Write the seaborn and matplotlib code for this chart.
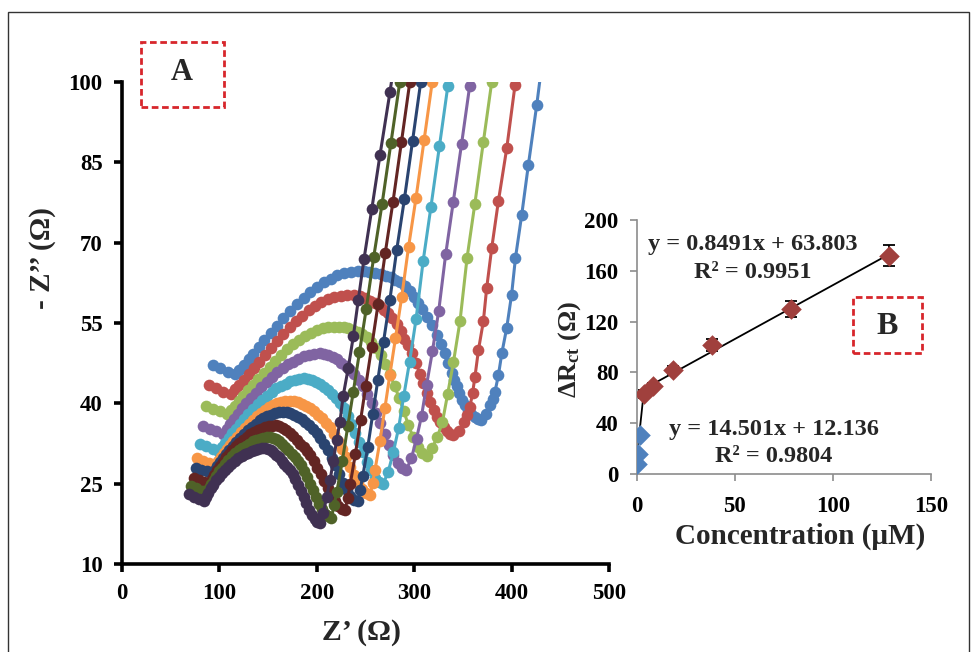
import numpy as np
import pandas as pd
import matplotlib
matplotlib.use("Agg")
import matplotlib.pyplot as plt
import seaborn as sns
from matplotlib.patches import Rectangle

sns.set_theme(style="white")
plt.rcParams['font.family'] = ['Liberation Serif', 'DejaVu Serif']
plt.rcParams['font.weight'] = 'bold'
plt.rcParams['mathtext.fontset'] = 'custom'
plt.rcParams['mathtext.rm'] = 'Liberation Serif:bold'
plt.rcParams['mathtext.bf'] = 'Liberation Serif:bold'
plt.rcParams['mathtext.it'] = 'Liberation Serif:bold'

# ---------------- Panel A : Nyquist curves, points as (Z', -Z'') ----------------
pts_blue = [(93.5, 47.2), (101, 46.6), (108.5, 45.9),
            (116, 45.4), (120.4, 46.2), (124.8, 47.1), (129.9, 48.2), (134.9, 49.3), (140.6, 50.6), (146.2, 51.8),
            (152.5, 53.2), (158.8, 54.5), (165.8, 55.9), (172.7, 57.2), (179.7, 58.5), (186.6, 59.7), (193.5, 60.8),
            (200.4, 61.8), (207.4, 62.6), (214.3, 63.3), (221.2, 63.9), (228.1, 64.3), (235, 64.6), (242, 64.7),
            (248, 64.7), (254, 64.5), (260, 64.3), (266, 64.1), (271, 63.8), (276, 63.5), (280.7, 63.1),
            (285.4, 62.7), (290.5, 61.9), (295.7, 60.9), (299.9, 59.9), (304, 58.8), (308.4, 57.6), (312.8, 56.2),
            (317.9, 54.6), (323, 52.8), (327.3, 51.1), (331.6, 49.4), (335, 47.6), (338.5, 45.7), (341, 44.4),
            (343.6, 43.2), (346.2, 42), (348.8, 40.7), (352.1, 39.7), (355.5, 38.8), (358.7, 38), (362, 37.4),
            (365.5, 37), (369, 36.8),
            (373.5, 38), (377.8, 39.7), (380.5, 40.9), (383, 42.2), (386.5, 45.3), (390, 49.4), (395, 54.1),
            (400, 60.3), (404, 67.2), (410.4, 75.2), (417.2, 84.5), (425.8, 95.7), (433, 106)]

pts_red = [(89, 43.4), (96.5, 42.8), (104, 42.2),
           (112, 41.7), (116.2, 42.6), (120.3, 43.4), (125.1, 44.4), (129.9, 45.4), (135.3, 46.6), (140.6, 47.8),
           (146.6, 49.1), (152.5, 50.4), (159, 51.7), (165.6, 53), (172.1, 54.2), (178.6, 55.4), (185.2, 56.4),
           (191.7, 57.4), (198.3, 58.2), (204.8, 58.9), (211.4, 59.4), (217.9, 59.8), (224.5, 60.1), (231, 60.2),
           (237.7, 60.2), (244.4, 60), (249.7, 59.7), (255, 59.2), (260, 58.7), (265, 58.1), (269, 57.5),
           (273, 56.8), (277.5, 55.9), (282, 54.8), (286, 53.5), (290, 52), (293.7, 50.8), (297.4, 49.4),
           (301.7, 47.5), (306, 45.5), (309.5, 43.8), (313, 42), (316.5, 40.3), (320, 38.8), (323.5, 37.5),
           (327, 36.5), (330.5, 35.5), (334, 34.8), (337, 34.3), (340, 34.1),
           (346, 34.8), (351, 36.5), (354.5, 37.8), (357.3, 39.4), (360, 42), (362.4, 45), (366, 50),
           (371, 55.3), (374.4, 61.5), (379.6, 69), (386.4, 77.7), (395, 87.6), (403.5, 99.4), (410, 109)]

pts_green = [(86, 39.5), (93, 39), (100.5, 38.5),
             (108, 38), (111.9, 38.7), (115.7, 39.5), (120.1, 40.4), (124.5, 41.3), (129.5, 42.4), (134.4, 43.4),
             (139.9, 44.6), (145.4, 45.7), (151.5, 46.8), (157.5, 47.9), (163.6, 49), (169.6, 50.1), (175.7, 51),
             (181.7, 51.9), (187.8, 52.6), (193.8, 53.2), (199.9, 53.7), (205.9, 54), (212, 54.2), (218, 54.3),
             (222.8, 54.3), (227.5, 54.2), (232.3, 54), (237, 53.7), (241.8, 53.3), (246.5, 52.9), (251.3, 52.3),
             (256, 51.5), (260.8, 50.4), (265.5, 49), (270.3, 47.3), (275, 45.4), (279.8, 43.3), (284.5, 41),
             (289.3, 38.5), (294, 36), (298.8, 33.7), (303.5, 31.9), (308.3, 30.8), (313, 30.2),
             (318.3, 31.6), (323.7, 33.7), (329, 36.5), (334.3, 41.7), (340.3, 47.7), (347, 55.3), (354.3, 67.2),
             (362.3, 77.3), (371, 88.8), (379.6, 100), (387.6, 111.9)]

pts_purple = [(83, 35.8), (90, 35.3), (97, 34.8),
              (104, 34.3), (107.5, 35.2), (110.9, 36.1), (114.9, 37.1), (118.9, 38.1), (123.4, 39.1), (127.8, 40),
              (132.8, 41), (137.7, 42), (143.2, 43), (148.6, 44), (154, 44.9), (159.4, 45.8), (164.9, 46.6),
              (170.3, 47.3), (175.8, 47.8), (181.2, 48.3), (186.7, 48.8), (192.1, 49.1), (197.6, 49.3), (203, 49.4),
              (207.5, 49.3), (211.9, 49.1), (216.4, 48.7), (220.8, 48.2), (225.3, 47.6), (229.7, 47), (234.2, 46.2),
              (238.6, 45.4), (243.1, 44.3), (247.5, 43.2), (252, 41.7), (256.4, 40), (260.9, 38.2), (265.3, 36.3),
              (269.8, 34.2), (274.2, 32.2), (278.7, 30.4), (283.1, 28.9), (287.6, 28), (292, 27.6),
              (297.2, 29.8), (302.4, 33.4), (307.6, 37.7), (312.8, 43.5), (318.7, 49.7), (325.2, 57.3),
              (332.3, 67.8), (340.1, 77.6), (348.6, 88.4), (357, 99.3), (364.8, 110.9)]

pts_aqua = [(80, 32.5), (86.5, 32), (93, 31.5),
            (100, 31), (103.1, 31.8), (106.1, 32.6), (109.6, 33.5), (113.1, 34.4), (117, 35.3), (120.9, 36.2),
            (125.3, 37.1), (129.6, 38), (134.4, 38.9), (139.2, 39.8), (144, 40.6), (148.7, 41.4), (153.5, 42.1),
            (158.3, 42.8), (163.1, 43.3), (167.9, 43.7), (172.7, 44.1), (177.4, 44.4), (182.2, 44.6), (187, 44.7),
            (191.1, 44.6), (195.1, 44.4), (199.2, 44), (203.2, 43.6), (207.3, 43.1), (211.3, 42.5), (215.4, 41.8),
            (219.4, 41), (223.5, 40.1), (227.5, 39.1), (231.6, 37.7), (235.6, 36.2), (239.7, 34.5), (243.7, 32.8),
            (247.8, 30.9), (251.8, 29.1), (255.9, 27.5), (259.9, 26.1), (264, 25.3), (268, 24.9),
            (273.3, 27.2), (278.6, 30.9), (284, 35.4), (289.3, 41.4), (295.3, 47.8), (301.9, 55.7),
            (309.2, 66.6), (317.2, 76.7), (325.9, 88), (334.5, 99.2), (342.5, 111.3)]

pts_orange = [(77.5, 29.7), (83.5, 29.3), (89.5, 28.8),
              (96, 28.4), (98.7, 29.2), (101.3, 29.9), (104.4, 30.7), (107.4, 31.4), (110.8, 32.2), (114.2, 33),
              (118, 33.8), (121.8, 34.6), (126, 35.4), (130.2, 36.1), (134.4, 36.9), (138.6, 37.6), (142.8, 38.2),
              (146.9, 38.8), (151.1, 39.3), (155.3, 39.7), (159.5, 40), (163.6, 40.3), (167.8, 40.4), (172, 40.5),
              (176.2, 40.4), (180.3, 40.2), (184.5, 39.9), (188.6, 39.5), (192.8, 39.1), (196.9, 38.6), (201.1, 37.9),
              (205.2, 37.2), (209.4, 36.4), (213.5, 35.5), (217.7, 34.3), (221.8, 32.9), (226, 31.4), (230.1, 29.9),
              (234.3, 28.2), (238.4, 26.6), (242.6, 25.2), (246.7, 24), (250.9, 23.3), (255, 22.9),
              (257.3, 25.2), (259.7, 27.5), (264.8, 32.9), (269.9, 39.1), (275, 45.3), (280.8, 52.2), (287.2, 59.9),
              (294.2, 69.2), (301.9, 78.4), (310.2, 89.2), (318.5, 100), (326.1, 109.3)]

pts_navy = [(75.5, 28), (81.3, 27.6), (87.2, 27.3),
            (93, 26.9), (95.5, 27.6), (98, 28.3), (100.9, 29.1), (103.8, 29.8), (107.1, 30.6), (110.3, 31.3),
            (113.9, 32.1), (117.5, 32.8), (121.5, 33.6), (125.4, 34.3), (129.4, 35), (133.3, 35.6), (137.3, 36.2),
            (141.2, 36.8), (145.2, 37.2), (149.2, 37.6), (153.2, 37.9), (157.1, 38.2), (161.1, 38.3), (165, 38.4),
            (168.9, 38.3), (172.7, 38.2), (176.6, 37.9), (180.4, 37.5), (184.3, 37.1), (188.1, 36.6), (192, 36),
            (195.8, 35.3), (199.7, 34.5), (203.5, 33.6), (207.4, 32.5), (211.2, 31.2), (215.1, 29.8), (218.9, 28.4),
            (222.8, 26.8), (226.6, 25.2), (230.5, 23.8), (234.3, 22.7), (238.2, 22), (242, 21.7),
            (244.6, 23.9), (247.2, 26.4), (252.4, 31.9), (257.5, 38.1), (262.7, 44.4), (268.5, 51.5), (275, 59.3),
            (282.1, 68.7), (289.9, 78.1), (298.3, 89), (306.7, 100), (314.5, 109.4)]

pts_darkred = [(73.5, 26.1), (79, 25.7), (84.5, 25.4),
               (90, 25), (92.4, 25.8), (94.8, 26.6), (97.5, 27.5), (100.2, 28.3), (103.3, 29.1), (106.3, 29.9),
               (109.7, 30.6), (113.1, 31.3), (116.9, 32), (120.6, 32.6), (124.4, 33.2), (128.1, 33.7), (131.9, 34.2),
               (135.6, 34.6), (139.3, 35), (143, 35.3), (146.8, 35.5), (150.5, 35.7), (154.3, 35.8), (158, 35.9),
               (161.6, 35.7), (165.1, 35.4), (168.7, 35), (172.2, 34.5), (175.8, 33.9), (179.3, 33.2), (182.9, 32.5),
               (186.4, 31.8), (190, 31.1), (193.5, 30.4), (197.1, 29.2), (200.6, 28), (204.2, 26.8), (207.7, 25.5),
               (211.3, 24.1), (214.8, 22.8), (218.4, 21.7), (221.9, 20.9), (225.5, 20.3), (229, 20.1),
               (231.7, 22.3), (234.3, 24.9), (239.6, 30.5), (245, 36.9), (250.3, 43.3), (256.3, 50.5), (262.9, 58.5),
               (270.2, 68), (278.2, 77.6), (286.9, 88.8), (295.5, 100), (303.5, 109.6)]

pts_dkgreen = [(71, 24.6), (76.3, 24.2), (81.7, 23.7),
               (87, 23.3), (89.3, 24.1), (91.6, 24.9), (94.2, 25.7), (96.8, 26.5), (99.7, 27.3), (102.6, 28),
               (105.9, 28.7), (109.1, 29.4), (112.7, 30.1), (116.3, 30.7), (119.9, 31.2), (123.4, 31.7), (127, 32.1),
               (130.6, 32.5), (134.2, 32.9), (137.7, 33.2), (141.3, 33.4), (144.9, 33.6), (148.5, 33.7), (152, 33.8),
               (155.2, 33.6), (158.3, 33.3), (161.5, 32.9), (164.6, 32.4), (167.8, 31.8), (170.9, 31.2), (174.1, 30.6),
               (177.2, 29.9), (180.4, 29.2), (183.5, 28.5), (186.7, 27.4), (189.8, 26.2), (193, 25), (196.1, 23.8),
               (199.3, 22.5), (202.4, 21.2), (205.6, 20.2), (208.7, 19.4), (211.9, 18.9), (215, 18.6),
               (217.8, 21), (220.6, 23.5), (226.2, 29.2), (231.8, 35.7), (237.5, 42.2), (243.8, 49.5), (250.8, 57.7),
               (258.5, 67.4), (267, 77.2), (276.1, 88.6), (285.2, 100), (293.6, 109.8)]

pts_dkpurple = [(68.5, 23.1), (73.5, 22.6), (78.8, 22.2),
                (84, 21.8), (86.2, 22.6), (88.4, 23.3), (91, 24.1), (93.5, 24.8), (96.3, 25.6), (99.1, 26.3),
                (102.3, 26.9), (105.4, 27.5), (108.9, 28.1), (112.4, 28.7), (115.9, 29.2), (119.3, 29.7), (122.8, 30.1),
                (126.2, 30.5), (129.7, 30.8), (133.1, 31.1), (136.6, 31.3), (140.1, 31.5), (143.6, 31.6), (147, 31.7),
                (149.8, 31.5), (152.6, 31.3), (155.5, 30.9), (158.3, 30.4), (161.1, 29.9), (163.9, 29.3), (166.7, 28.7),
                (169.5, 28.1), (172.4, 27.5), (175.2, 26.8), (178, 25.8), (180.8, 24.7), (183.6, 23.6), (186.4, 22.5),
                (189.4, 21.3), (192.3, 20.1), (195, 19.2), (197.7, 18.4), (200.5, 17.9), (203.3, 17.7),
                (206.7, 19.5), (210.2, 22.6), (213.6, 25.7), (217, 29.2), (220.4, 33.2), (223.8, 36.6), (227, 41.3),
                (232.3, 46.6), (237.5, 52.5), (242.6, 59.3), (248.5, 67), (256.4, 76.2), (264.9, 86.4), (275.2, 98.2),
                (283, 108)]

curve_names = ["c1", "c2", "c3", "c4", "c5", "c6", "c7", "c8", "c9", "c10"]
curve_colors = ["#4F81BD", "#C0504D", "#9BBB59", "#8064A2", "#4BACC6",
                "#F79646", "#2A4470", "#632523", "#4F6228", "#403152"]
curve_points = [pts_blue, pts_red, pts_green, pts_purple, pts_aqua,
                pts_orange, pts_navy, pts_darkred, pts_dkgreen, pts_dkpurple]

x_ticks_a = [0, 100, 200, 300, 400, 500]
y_ticks_a = [10, 25, 40, 55, 70, 85, 100]

# ---------------- Panel B : calibration ----------------
conc_low = [0.1, 0.5, 1.5]
drct_low = [8, 16, 31]
conc_high = [3.5, 8.5, 18.5, 38.5, 78.5, 128.5]
drct_high = [63, 69, 82, 101.5, 130, 172]
err_high = [3, 3, 3, 5, 6, 8.5]
fit_low = (14.501, 12.136)
fit_high = (0.8491, 63.803)
x_ticks_b = [0, 50, 100, 150]
y_ticks_b = [0, 40, 80, 120, 160, 200]

W, H = 976, 652
fig = plt.figure(figsize=(W / 100, H / 100), dpi=100)

def fx(px):
    return px / W

def fy(py):
    return 1 - py / H

# ---- main axes
ax = fig.add_axes([fx(122), fy(564), fx(609) - fx(122), fy(82) - fy(564)])
frames = []
for name, pts in zip(curve_names, curve_points):
    arr = np.array(pts, dtype=float)
    frames.append(pd.DataFrame({"zre": arr[:, 0], "zim": arr[:, 1], "curve": name}))
df = pd.concat(frames, ignore_index=True)
sns.lineplot(data=df, x="zre", y="zim", hue="curve", hue_order=curve_names,
             palette=dict(zip(curve_names, curve_colors)), sort=False, estimator=None,
             marker="o", markersize=8.4, markeredgewidth=0, linewidth=2.2,
             legend=False, ax=ax)
ax.set_xlim(0, 500)
ax.set_ylim(10, 100)
ax.set_xticks(x_ticks_a)
ax.set_yticks(y_ticks_a)
ax.set_xlabel("")
ax.set_ylabel("")
for s in ["top", "right"]:
    ax.spines[s].set_visible(False)
for s in ["left", "bottom"]:
    ax.spines[s].set_color("black")
    ax.spines[s].set_linewidth(2.6)
ax.tick_params(axis="both", which="major", direction="out", length=6, width=2.6,
               color="black", labelcolor="black", labelsize=16.5, bottom=True, left=True)
ax.tick_params(axis="x", pad=8)
ax.tick_params(axis="y", pad=8)
ax.set_facecolor("white")

fig.text(fx(362), fy(632), "Z\u2019 (\u03a9)", ha="center", va="center", fontsize=21.5, fontweight="bold")
fig.text(fx(42), fy(258), "- Z\u2019\u2019 (\u03a9)", ha="center", va="center", rotation=90,
         fontsize=21, fontweight="bold")

# ---- inset axes
ax2 = fig.add_axes([fx(636.7), fy(474), fx(931) - fx(636.7), fy(220) - fy(474)])
ax2.set_facecolor("none")
fx1 = np.linspace(min(conc_low), conc_high[0], 20)
fx2 = np.linspace(conc_high[0], max(conc_high), 50)
sns.lineplot(x=fx1, y=fit_low[0] * fx1 + fit_low[1], color="black", linewidth=1.3, ax=ax2, sort=False)
sns.lineplot(x=fx2, y=fit_high[0] * fx2 + fit_high[1], color="black", linewidth=1.3, ax=ax2, sort=False)
ax2.errorbar(conc_high, drct_high, yerr=err_high, fmt="none", ecolor="black",
             elinewidth=1.3, capsize=4, capthick=1.3, zorder=3)
sns.scatterplot(x=conc_low, y=drct_low, marker="D", s=110, color="#4F81BD", edgecolor="#4F81BD",
                linewidth=0, ax=ax2, zorder=4)
sns.scatterplot(x=conc_high, y=drct_high, marker="D", s=110, color="#A0403D", edgecolor="#A0403D",
                linewidth=0, ax=ax2, zorder=4)
ax2.set_xlim(0, 150)
ax2.set_ylim(0, 200)
ax2.set_xticks(x_ticks_b)
ax2.set_yticks(y_ticks_b)
ax2.set_xlabel("")
ax2.set_ylabel("")
for s in ["top", "right"]:
    ax2.spines[s].set_visible(False)
for s in ["left", "bottom"]:
    ax2.spines[s].set_color("#8C8C8C")
    ax2.spines[s].set_linewidth(1.2)
ax2.tick_params(axis="both", direction="out", length=5, width=1.2, color="#8C8C8C",
                labelcolor="black", labelsize=16.5, bottom=True, left=True)
ax2.tick_params(axis="x", pad=11)
ax2.tick_params(axis="y", pad=8)

fig.text(fx(753), fy(245), "y = 0.8491x + 63.803", ha="center", va="center", fontsize=17.5, fontweight="bold")
fig.text(fx(753), fy(272), "R\u00b2 = 0.9951", ha="center", va="center", fontsize=17.5, fontweight="bold")
fig.text(fx(774), fy(430), "y = 14.501x + 12.136", ha="center", va="center", fontsize=17.5, fontweight="bold")
fig.text(fx(774), fy(457), "R\u00b2 = 0.9804", ha="center", va="center", fontsize=17.5, fontweight="bold")
fig.text(fx(800), fy(536), "Concentration (\u03bcM)", ha="center", va="center", fontsize=21, fontweight="bold")
fig.text(fx(570), fy(350), "\u0394R$_{\\mathbf{ct}}$ (\u03a9)",
         ha="center", va="center", rotation=90, fontsize=19, fontweight="bold")

# ---- labels A / B with dashed boxes
box_red = "#D7262B"
fig.add_artist(Rectangle((fx(141), fy(107)), fx(224) - fx(141), fy(42) - fy(107), transform=fig.transFigure,
                         fill=False, edgecolor=box_red, linewidth=2.0, linestyle=(0, (2.4, 1.3))))
fig.text(fx(182), fy(73), "A", ha="center", va="center", fontsize=22, fontweight="bold")
fig.add_artist(Rectangle((fx(853), fy(353)), fx(922) - fx(853), fy(297) - fy(353), transform=fig.transFigure,
                         fill=False, edgecolor=box_red, linewidth=2.0, linestyle=(0, (2.4, 1.3))))
fig.text(fx(887), fy(326), "B", ha="center", va="center", fontsize=23, fontweight="bold")

# ---- outer frame
fig.add_artist(Rectangle((fx(8), -0.05), fx(969) - fx(8), fy(12) + 0.05, transform=fig.transFigure,
                         fill=False, edgecolor="#333333", linewidth=1.0))

fig.savefig("out.png", dpi=100, facecolor="white")
